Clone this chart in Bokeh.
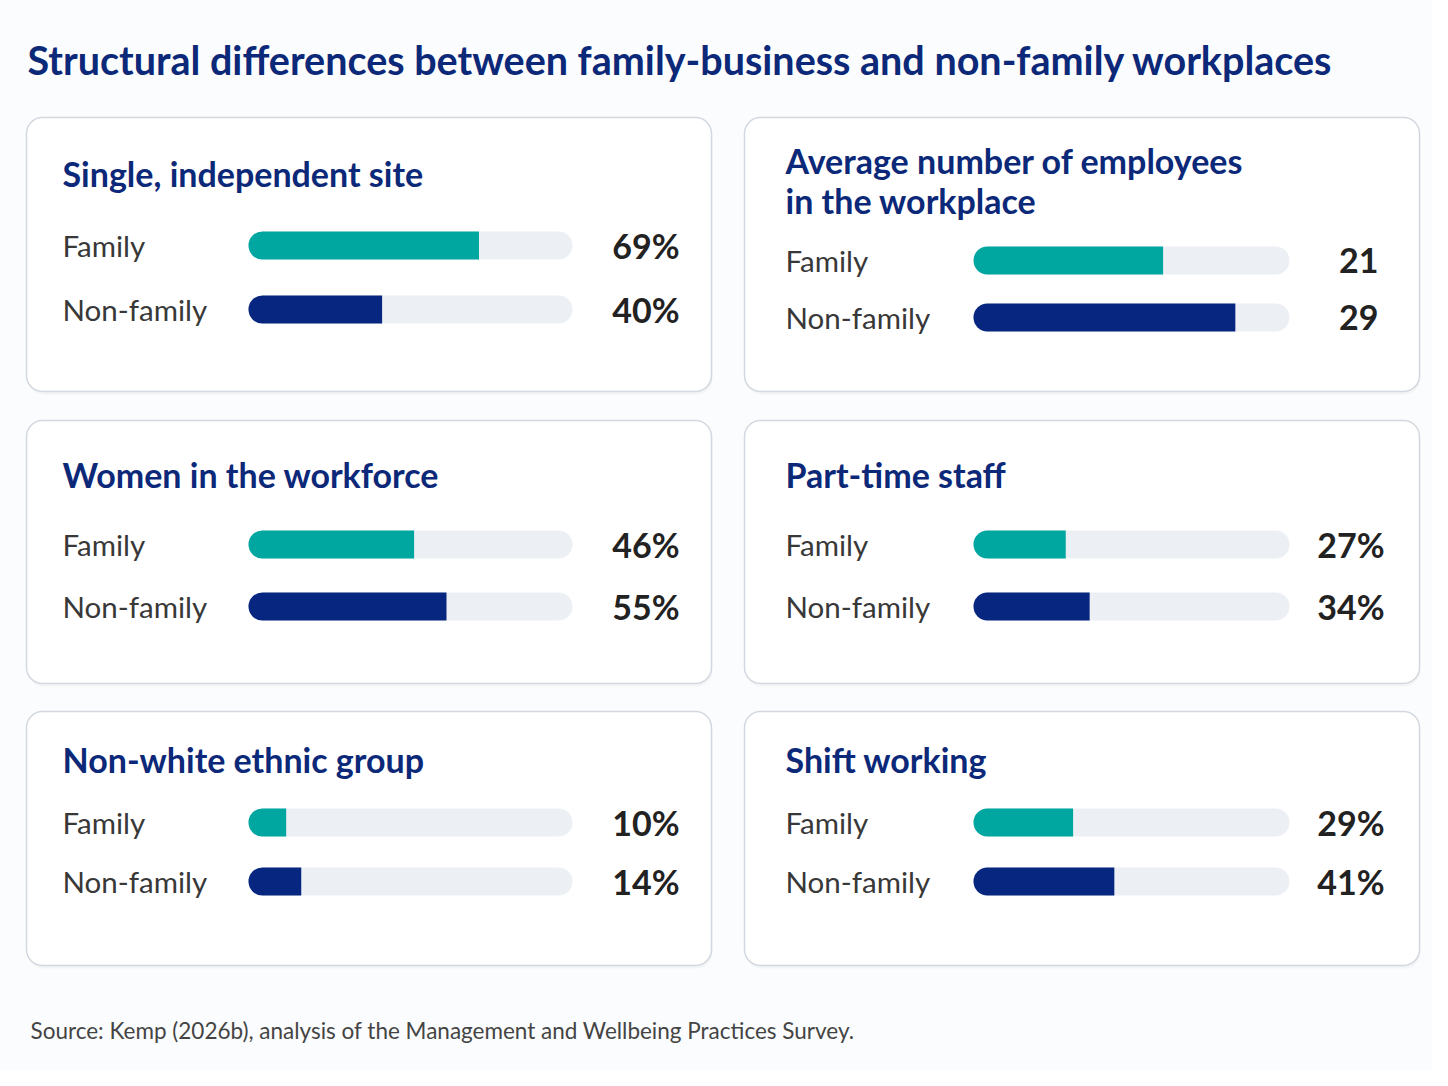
from bokeh.plotting import figure
from bokeh.models import Range1d
from bokeh.core.properties import value
from bokeh.embed import file_html
from bokeh.resources import INLINE

# ---------------- data ----------------
chart_title = "Structural differences between family-business and non-family workplaces"
source_note = "Source: Kemp (2026b), analysis of the Management and Wellbeing Practices Survey."
panel_titles = [
    "Single, independent site",
    "Average number of employees\nin the workplace",
    "Women in the workforce",
    "Part-time staff",
    "Non-white ethnic group",
    "Shift working",
]
groups = ["Family", "Non-family"]
family_values = [69, 21, 46, 27, 10, 29]
nonfamily_values = [40, 29, 55, 34, 14, 41]
value_suffix = ["%", "", "%", "%", "%", "%"]
scale_max = [97, 35, 90, 92.5, 86, 92]   # full length of each track, as drawn

# ---------------- styles / layout ----------------
FONT = "Lato"
NAVY_TEXT = "#0c2878"
TEAL = "#00a6a0"
NAVY = "#06267f"
TRACK = "#eceff3"
LABEL_C = "#383838"
VALUE_C = "#222222"
BG = "#fbfcfd"

W, H = 1432, 1070
p = figure(width=W, height=H, x_range=Range1d(0, W), y_range=Range1d(H, 0),
           x_axis_type=None, y_axis_type=None, toolbar_location=None,
           output_backend="svg", min_border=0)
p.outline_line_color = None
p.background_fill_color = BG
p.border_fill_color = BG
p.grid.visible = False

cols = [dict(x0=26, x1=711, label_x=62, a=248, b=572),
        dict(x0=744, x1=1419, label_x=785, a=973, b=1289)]
value_right = [679, 1378, 679, 1384, 679, 1384]
rows = [dict(y0=117, y1=391, title_y=[173, 180], bars=[[245, 309], [260, 317]]),
        dict(y0=420, y1=683, title_y=[474, 474], bars=[[544, 606], [544, 606]]),
        dict(y0=711, y1=965, title_y=[759, 759], bars=[[822, 881], [822, 881]])]

# chart title
p.text(x=[27], y=[59], text=[chart_title], text_font=value(FONT), text_font_style="bold",
       text_font_size="39.5px", text_color=NAVY_TEXT, text_baseline="middle", text_align="left")

# source
p.text(x=[30], y=[1030], text=[source_note], text_font=value(FONT),
       text_font_size="22.5px", text_color="#444444", text_baseline="middle", text_align="left")

BAR_H = 28
R = 14
for i in range(6):
    r = rows[i // 2]
    c = cols[i % 2]
    ci = i % 2
    # panel card (soft shadow + card)
    p.quad(left=[c["x0"] + 1], right=[c["x1"] + 1], top=[r["y0"] + 3], bottom=[r["y1"] + 3],
           fill_color="#000000", fill_alpha=0.03, line_color=None, border_radius=16)
    p.quad(left=[c["x0"]], right=[c["x1"]], top=[r["y0"]], bottom=[r["y1"]],
           fill_color="#ffffff", line_color="#d2d8e0", line_width=1.5, border_radius=16)

    # panel x-scale: 0 maps to track start, scale_max maps to track end
    M = scale_max[i]
    s = M / (c["b"] - c["a"])
    name = f"panel{i}"
    p.extra_x_ranges[name] = Range1d(-c["a"] * s, M + (W - c["b"]) * s)

    ty = r["title_y"][ci]
    p.text(x=[c["label_x"]], y=[ty], text=[panel_titles[i]], text_font=value(FONT),
           text_font_style="bold", text_font_size="34px", text_color=NAVY_TEXT,
           text_baseline="middle", text_align="left", text_line_height=0.98)

    yf, yn = r["bars"][ci]
    p.hbar(y=[yf, yn], left=0, right=M, height=BAR_H, x_range_name=name,
           fill_color=TRACK, line_color=None, border_radius=R)
    p.hbar(y=[yf], left=0, right=[family_values[i]], height=BAR_H, x_range_name=name,
           fill_color=TEAL, line_color=None, border_radius=(R, 0, 0, R))
    p.hbar(y=[yn], left=0, right=[nonfamily_values[i]], height=BAR_H, x_range_name=name,
           fill_color=NAVY, line_color=None, border_radius=(R, 0, 0, R))

    p.text(x=[c["label_x"], c["label_x"]], y=[yf, yn], text=groups, text_font=value(FONT),
           text_font_size="29.5px", text_color=LABEL_C, text_baseline="middle", text_align="left")
    vals = [f"{family_values[i]}{value_suffix[i]}", f"{nonfamily_values[i]}{value_suffix[i]}"]
    vx = value_right[i]
    p.text(x=[vx, vx], y=[yf, yn], text=vals, text_font=value(FONT),
           text_font_style="bold", text_font_size="34px", text_color=VALUE_C,
           text_baseline="middle", text_align="right")

open("out.html", "w").write(file_html(p, INLINE))
